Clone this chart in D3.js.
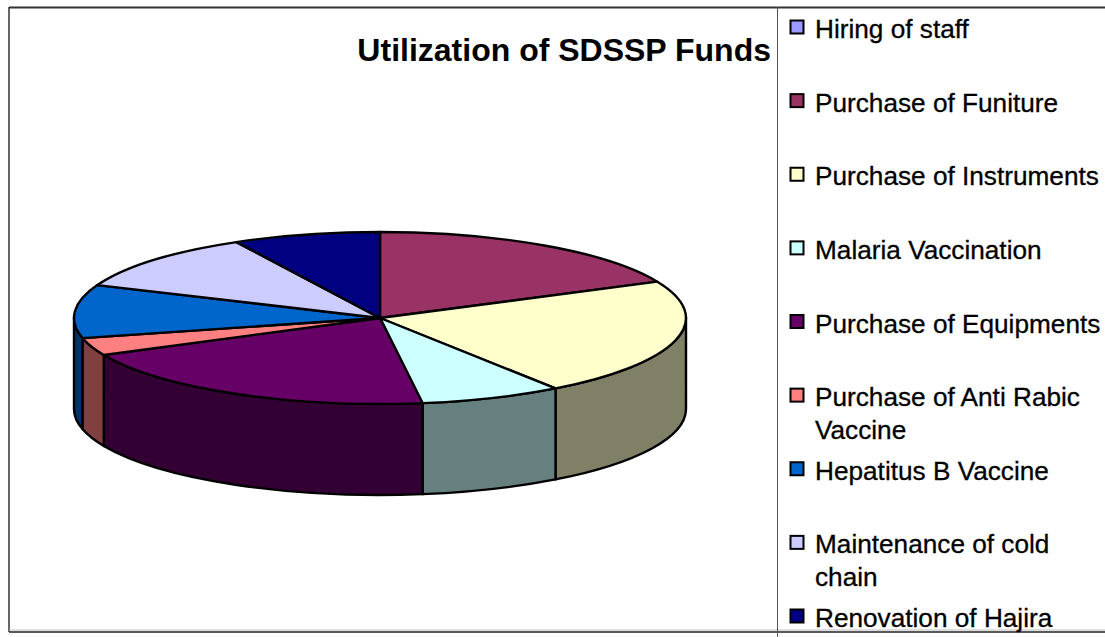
<!DOCTYPE html>
<html>
<head>
<meta charset="utf-8">
<script src="https://cdn.jsdelivr.net/npm/d3@7"></script>
<style>
  html, body { margin: 0; padding: 0; background: #fff; }
  svg { display: block; font-family: Arial, "Liberation Sans", sans-serif; }
</style>
</head>
<body>
<script>
// data (slice sizes, roughly degrees of the pie)
var categories = ["Hiring of staff", "Purchase of Funiture", "Purchase of Instruments",
  "Malaria Vaccination", "Purchase of Equipments", "Purchase of Anti Rabic Vaccine",
  "Hepatitus B Vaccine", "Maintenance of cold chain", "Renovation of Hajira"];
var values = [0, 65, 80, 27, 72.5, 12, 36, 39.5, 28];
var colors = ["#9999FF", "#993366", "#FFFFCC", "#CCFFFF", "#660066", "#FF8080",
  "#0066CC", "#CCCCFF", "#000080"];
// legend text lines (wrapped as in the picture)
var legendLines = [["Hiring of staff"], ["Purchase of Funiture"], ["Purchase of Instruments"],
  ["Malaria Vaccination"], ["Purchase of Equipments"], ["Purchase of Anti Rabic", "Vaccine"],
  ["Hepatitus B Vaccine"], ["Maintenance of cold", "chain"], ["Renovation of Hajira"]];
var title = "Utilization of SDSSP Funds";

var W = 1105, H = 637;
var cx = 380, cy = 318, rx = 306, ry = 86, depth = 91;

var svg = d3.select("body").append("svg").attr("width", W).attr("height", H);

// frame lines
svg.append("line").attr("x1", 9).attr("x2", W).attr("y1", 7.5).attr("y2", 7.5)
  .attr("stroke", "#333").attr("stroke-width", 2);
svg.append("line").attr("x1", 9).attr("x2", 9).attr("y1", 7).attr("y2", 632)
  .attr("stroke", "#333").attr("stroke-width", 1.5);
svg.append("line").attr("x1", 9).attr("x2", W).attr("y1", 630).attr("y2", 630)
  .attr("stroke", "#bbb").attr("stroke-width", 1);
svg.append("line").attr("x1", 9).attr("x2", W).attr("y1", 632).attr("y2", 632)
  .attr("stroke", "#222").attr("stroke-width", 1.5);
svg.append("line").attr("x1", 777.5).attr("x2", 777.5).attr("y1", 7).attr("y2", H)
  .attr("stroke", "#555").attr("stroke-width", 1);

// title
svg.append("text").attr("x", 771).attr("y", 61).attr("text-anchor", "end")
  .attr("font-size", 32).attr("font-weight", "bold").attr("fill", "#000").text(title);

var pie = d3.pie().sort(null).value(function(d){ return d; });
var arcs = pie(values);

function px(a){ return cx + rx * Math.sin(a); }
function py(a){ return cy - ry * Math.cos(a); }

function topPath(d){
  var large = (d.endAngle - d.startAngle) > Math.PI ? 1 : 0;
  return "M" + cx + "," + cy + "L" + px(d.startAngle) + "," + py(d.startAngle) +
    "A" + rx + "," + ry + " 0 " + large + " 1 " + px(d.endAngle) + "," + py(d.endAngle) + "Z";
}

function sidePath(d){
  var a0 = Math.max(d.startAngle, Math.PI / 2), a1 = Math.min(d.endAngle, 3 * Math.PI / 2);
  if (a1 <= a0) return null;
  return "M" + px(a0) + "," + py(a0) +
    "A" + rx + "," + ry + " 0 0 1 " + px(a1) + "," + py(a1) +
    "L" + px(a1) + "," + (py(a1) + depth) +
    "A" + rx + "," + ry + " 0 0 0 " + px(a0) + "," + (py(a0) + depth) + "Z";
}

function shade(c){
  var r = d3.rgb(c);
  return d3.rgb(r.r * 0.5, r.g * 0.5, r.b * 0.5).toString();
}

var g = svg.append("g");
g.selectAll("path.side").data(arcs.filter(function(d){ return d.value > 0 && sidePath(d); }))
  .enter().append("path").attr("class", "side")
  .attr("d", sidePath)
  .attr("fill", function(d){ return shade(colors[d.index]); })
  .attr("stroke", "#000").attr("stroke-width", 2.4).attr("stroke-linejoin", "round");

g.selectAll("path.top").data(arcs.filter(function(d){ return d.value > 0; }))
  .enter().append("path").attr("class", "top")
  .attr("d", topPath)
  .attr("fill", function(d){ return colors[d.index]; })
  .attr("stroke", "#000").attr("stroke-width", 2.4).attr("stroke-linejoin", "round");

// legend
var legendY = d3.scaleLinear().domain([0, categories.length - 1]).range([38, 627]);
var leg = svg.append("g").selectAll("g").data(categories).enter().append("g");
leg.append("rect")
  .attr("x", 790.5).attr("y", function(d, i){ return legendY(i) - 17.5; })
  .attr("width", 13).attr("height", 13)
  .attr("fill", function(d, i){ return colors[i]; })
  .attr("stroke", "#000").attr("stroke-width", 2);
leg.each(function(d, i){
  var t = d3.select(this).append("text").attr("x", 815).attr("y", legendY(i))
    .attr("font-size", 26.2).attr("fill", "#000")
    .attr("stroke", "#000").attr("stroke-width", 0.3);
  legendLines[i].forEach(function(line, j){
    t.append("tspan").attr("x", 815).attr("dy", j === 0 ? 0 : 33).text(line);
  });
});
</script>
</body>
</html>
